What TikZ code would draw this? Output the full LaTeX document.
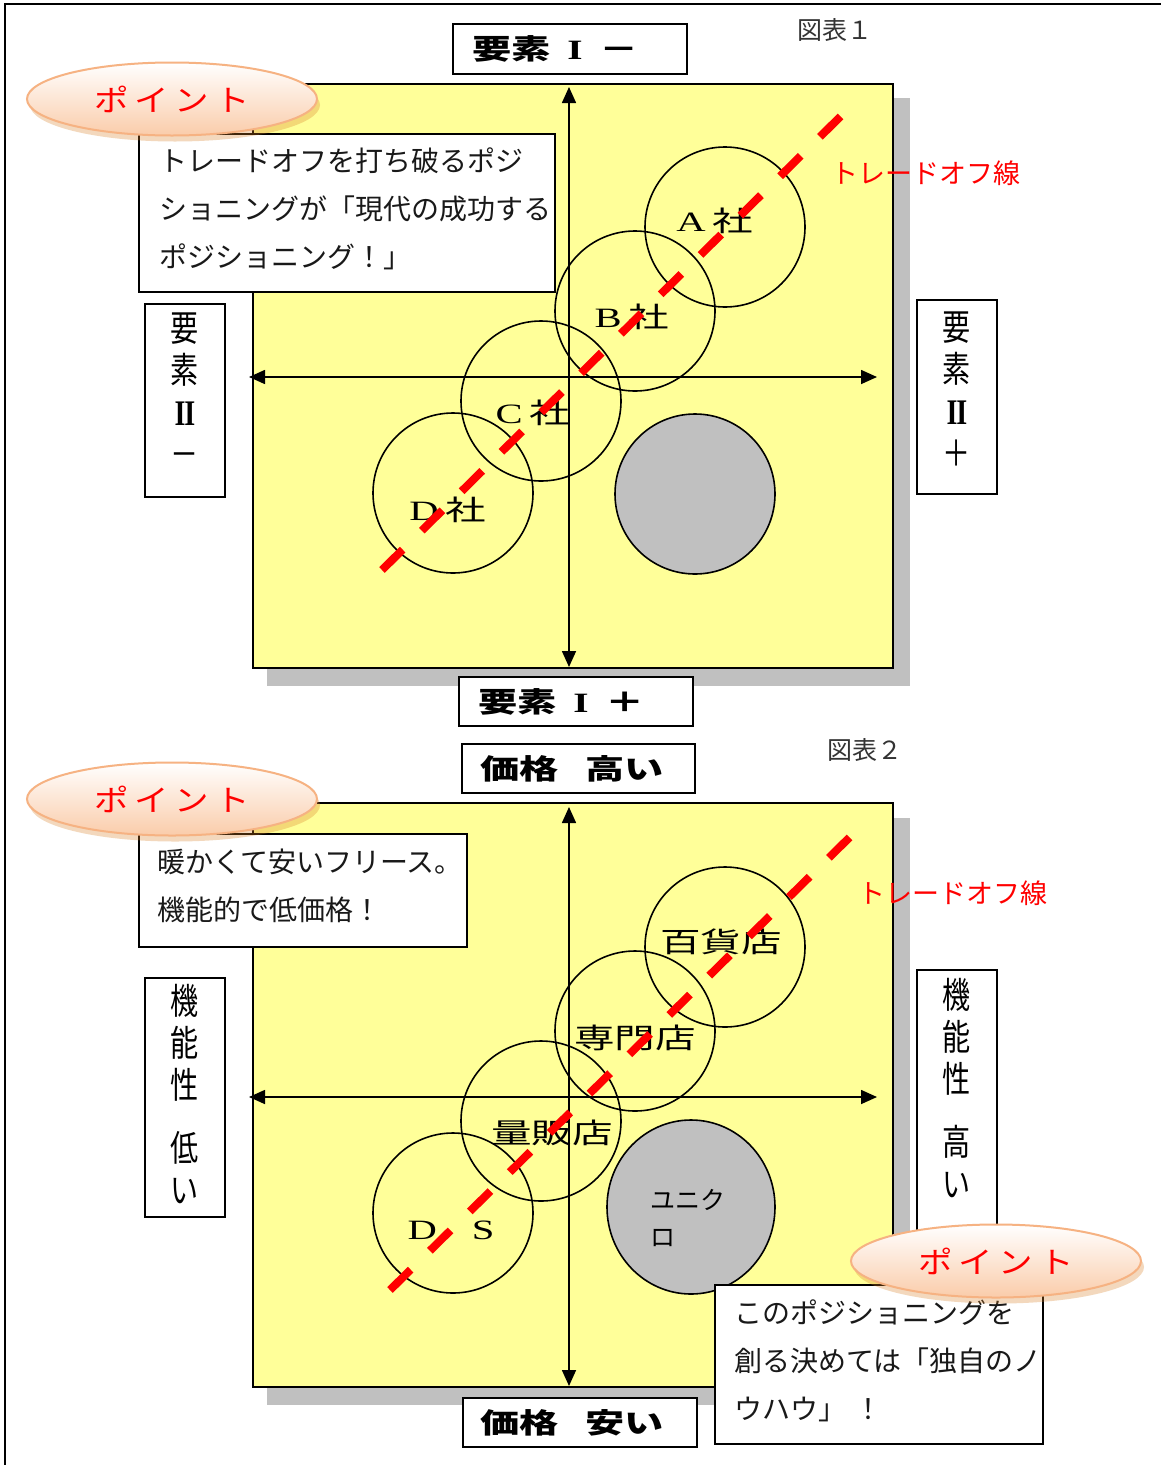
\documentclass[tikz,border=0pt]{standalone}
\usepackage{fontspec}
\usepackage{graphicx}
\setmainfont{Noto Sans CJK JP}
\newfontfamily\lserif{Liberation Serif}
\usetikzlibrary{arrows.meta,shapes.geometric,shadows}
\definecolor{yel}{RGB}{255,255,153}
\definecolor{shd}{RGB}{192,192,192}
\definecolor{peachB}{RGB}{246,178,130}
\definecolor{peachF}{RGB}{250,204,170}
\definecolor{txt}{RGB}{25,25,25}
\newcommand\cwide[1]{\scalebox{1.45}[1]{#1}}
\newcommand\hwide[1]{\scalebox{1.4}[1]{#1}}
\newcommand\vnarrow[1]{\scalebox{0.78}[1]{#1}}
\newcommand\pwide[1]{\scalebox{1.15}[1]{#1}}
\newcommand\romI{{\lserif\bfseries I}}
\newcommand\romII{{\lserif\bfseries I\kern-1.5pt I}}
\begin{document}
\begin{tikzpicture}[x=1pt,y=-1pt,
  plane/.style={draw=black,line width=2pt,fill=yel},
  lbox/.style={draw=black,line width=2pt,fill=white,rectangle,inner sep=0pt},
  tbox/.style={draw=black,line width=1.8pt,fill=white,rectangle,inner sep=0pt},
  axisline/.style={line width=1.6pt,{Triangle[length=16pt,width=14pt]}-{Triangle[length=16pt,width=14pt]}},
  firm/.style={draw=black,line width=1.6pt,circle,minimum size=160pt,inner sep=0pt},
  clabel/.style={inner sep=0pt,font=\fontsize{28}{28}\selectfont,text=black},
  hlabel/.style={inner sep=0pt,font=\fontsize{28}{28}\selectfont\bfseries,text=black,anchor=west},
  vlabel/.style={inner sep=0pt,font=\fontsize{36}{42}\selectfont,text=black,align=center},
  body/.style={inner sep=0pt,font=\fontsize{28}{48}\selectfont,text=txt,align=left,anchor=north west},
  tradeoff/.style={draw=red,line width=8pt,dash pattern=on 29pt off 27pt},
  redtext/.style={inner sep=0pt,font=\fontsize{27}{27}\selectfont,text=red},
  figtitle/.style={inner sep=0pt,font=\fontsize{25}{25}\selectfont,text=black!80},
  pointell/.style={ellipse,draw=peachB,line width=2pt,top color=white,bottom color=peachF,
    minimum width=290pt,minimum height=73pt,inner sep=0pt,text=red,
    font=\fontsize{30}{30}\selectfont,
    drop shadow={shadow xshift=3pt,shadow yshift=-6pt,opacity=0.3,fill=brown!60!orange}}
]
\useasboundingbox (0,0) rectangle (1161,1465);
\fill[white] (0,0) rectangle (1161,1465);
% page frame
\coordinate (fBL) at (5,1465); \coordinate (fTL) at (5,4); \coordinate (fTR) at (1161,4);
\draw[line width=2.5pt] (fBL) -- (fTL) -- (fTR);

% ================= Figure 1 =================
\fill[shd] (267,98) rectangle (910,686);
\draw[plane] (253,84) rectangle (893,668);
\coordinate (v1t) at (569,87); \coordinate (v1b) at (569,667);
\coordinate (h1l) at (249,377); \coordinate (h1r) at (877,377);
\draw[axisline] (v1t) -- (v1b);
\draw[axisline] (h1l) -- (h1r);
\node[firm] (cA) at (725,227) {};
\node[firm] (cB) at (635,311) {};
\node[firm] (cC) at (541,401) {};
\node[firm] (cD) at (453,493) {};
\node[firm,fill=shd] (cG) at (695,494) {};
\node[clabel] (lA) at (715,221) {\cwide{{\lserif A}\hspace{5pt}社}};
\node[clabel] (lB) at (632,317) {\cwide{{\lserif B}\hspace{5pt}社}};
\node[clabel] (lC) at (533,413) {\cwide{{\lserif C}\hspace{5pt}社}};
\node[clabel] (lD) at (448,510) {\cwide{{\lserif D}\hspace{5pt}社}};
\coordinate (r1a) at (382,570); \coordinate (r1b) at (842,115);
\draw[tradeoff] (r1a) -- (r1b);
\node[redtext] (to1) at (926,173) {トレードオフ線};
\node[figtitle] (fig1) at (835,30) {図表１};

\node[lbox,minimum width=234pt,minimum height=50pt] (t1) at (570,49) {};
\node[hlabel] (t1t) at (472,49) {\hwide{要素\hspace{12pt}\romI\hspace{12pt}－}};
\node[lbox,minimum width=234pt,minimum height=49pt] (b1) at (576,701.5) {};
\node[hlabel] (b1t) at (478,702) {\hwide{要素\hspace{12pt}\romI\hspace{12pt}＋}};
\node[lbox,minimum width=80pt,minimum height=193pt] (l1) at (185,400.5) {};
\node[vlabel] (l1t) at (185,390) {\vnarrow{要}\\\vnarrow{素}\\\vnarrow{\romII}\\\vnarrow{－}};
\node[lbox,minimum width=80pt,minimum height=194pt] (rr1) at (957,397) {};
\node[vlabel] (rr1t) at (957,389) {\vnarrow{要}\\\vnarrow{素}\\\vnarrow{\romII}\\\vnarrow{＋}};

\node[tbox,minimum width=416pt,minimum height=158pt] (p1) at (347,213) {};
\node[body] (p1t) at (159,148) {トレードオフを打ち破るポジ\\ショニングが「現代の成功する\\ポジショニング！」};
\node[pointell] (e1) at (172,99) {\pwide{ポ\hspace{5pt}イ\hspace{5pt}ン\hspace{5pt}ト}};

% ================= Figure 2 =================
\fill[shd] (267,818) rectangle (910,1405);
\draw[plane] (253,803) rectangle (893,1387);
\coordinate (v2t) at (569,807); \coordinate (v2b) at (569,1386);
\coordinate (h2l) at (249,1097); \coordinate (h2r) at (877,1097);
\draw[axisline] (v2t) -- (v2b);
\draw[axisline] (h2l) -- (h2r);
\node[firm] (c1) at (725,947) {};
\node[firm] (c2) at (635,1031) {};
\node[firm] (c3) at (541,1121) {};
\node[firm] (c4) at (453,1213) {};
\node[ellipse,draw=black,line width=1.6pt,fill=shd,minimum width=168pt,minimum height=174pt,inner sep=0pt] (uq) at (691,1207) {};
\node[clabel] (l1a) at (721,942) {\cwide{百貨店}};
\node[clabel] (l2a) at (635,1038) {\cwide{専門店}};
\node[clabel] (l3a) at (552,1133) {\cwide{量販店}};
\node[clabel] (l4a) at (451,1230) {\cwide{{\lserif D}\hspace{24pt}{\lserif S}}};
\node[inner sep=0pt,font=\fontsize{25}{37}\selectfont,align=left,anchor=north west] (uqt) at (650,1189) {ユニク\\ロ};
\coordinate (r2a) at (390,1290); \coordinate (r2b) at (852,835);
\draw[tradeoff] (r2a) -- (r2b);
\node[redtext] (to2) at (953,893) {トレードオフ線};
\node[figtitle] (fig2) at (865,750) {図表２};

\node[lbox,minimum width=233pt,minimum height=49pt] (t2) at (578.5,768.5) {};
\node[hlabel] (t2t) at (480,769) {\hwide{価格\hspace{19pt}高い}};
\node[lbox,minimum width=234pt,minimum height=49pt] (b2) at (580,1422.5) {};
\node[hlabel] (b2t) at (480,1423) {\hwide{価格\hspace{19pt}安い}};
\node[lbox,minimum width=80pt,minimum height=239pt] (l2) at (185,1097.5) {};
\node[vlabel] (l2t) at (185,1094) {\vnarrow{機}\\\vnarrow{能}\\\vnarrow{性}\\[21pt]\vnarrow{低}\\\vnarrow{い}};
\node[lbox,minimum width=80pt,minimum height=270pt] (rr2) at (957,1105) {};
\node[vlabel] (rr2t) at (957,1088) {\vnarrow{機}\\\vnarrow{能}\\\vnarrow{性}\\[21pt]\vnarrow{高}\\\vnarrow{い}};

\node[tbox,minimum width=328pt,minimum height=113pt] (p2) at (303,890.5) {};
\node[body] (p2t) at (157,849) {暖かくて安いフリース。\\機能的で低価格！};
\node[pointell] (e2) at (172,799) {\pwide{ポ\hspace{5pt}イ\hspace{5pt}ン\hspace{5pt}ト}};

\node[tbox,minimum width=328pt,minimum height=159pt] (p3) at (879,1364.5) {};
\node[body] (p3t) at (734,1300) {このポジショニングを\\創る決めては「独自のノ\\ウハウ」\hspace{8pt}！};
\node[pointell] (e3) at (996,1261) {\pwide{ポ\hspace{5pt}イ\hspace{5pt}ン\hspace{5pt}ト}};
\end{tikzpicture}
\end{document}
